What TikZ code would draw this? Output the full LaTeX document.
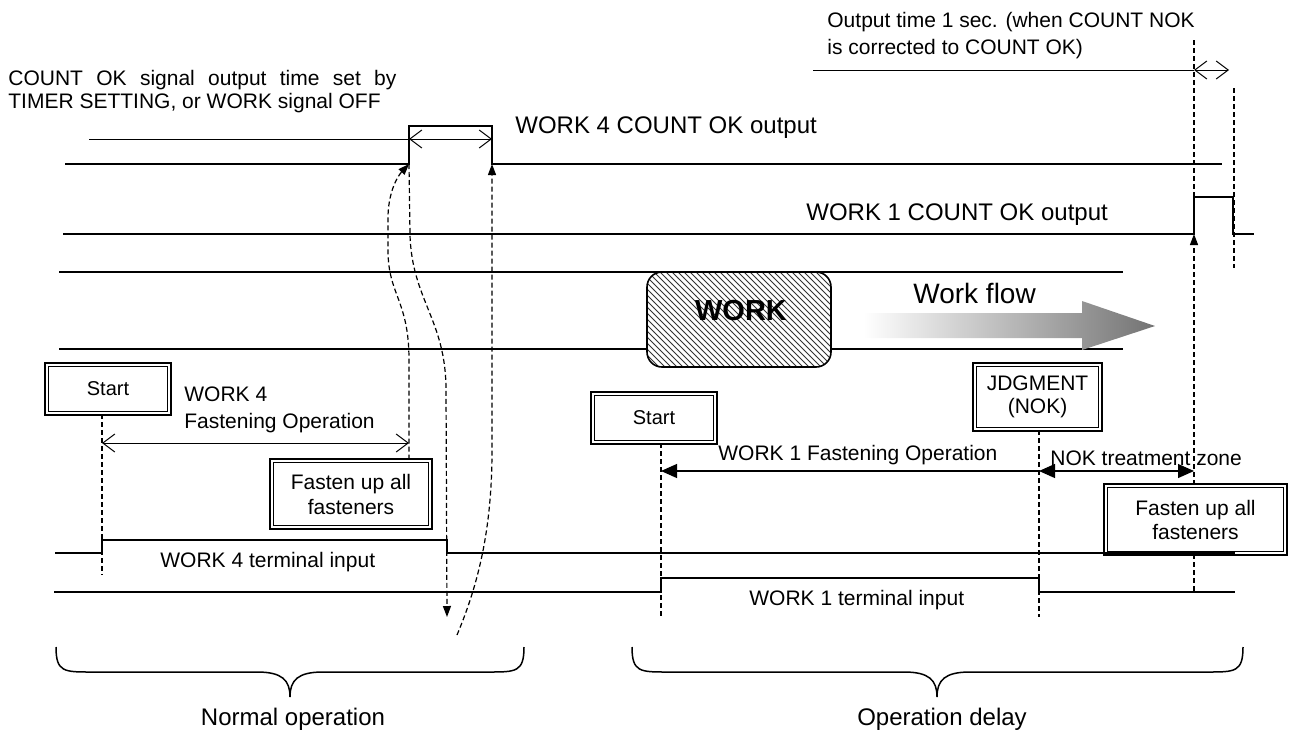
\documentclass[tikz,border=0pt]{standalone}
\usepackage{fontspec}
\setmainfont{Liberation Sans}
\usetikzlibrary{arrows.meta,patterns}

\begin{document}
\begin{tikzpicture}[x=0.5pt,y=-0.5pt,
	sig/.style={line width=1pt},
	thinln/.style={line width=0.5pt},
	guide/.style={line width=0.6pt,dash pattern=on 2.5pt off 1.5pt},
	cause/.style={guide,-{Triangle[length=5.5pt,width=4pt]}},
	span/.style={thinln,{Straight Barb[length=6pt,width=9pt]}-{Straight Barb[length=6pt,width=9pt]}},
	zone/.style={line width=0.6pt},
	brace/.style={line width=0.75pt},
	dblbox/.style={draw,fill=white,line width=0.9pt,double=white,double distance=1pt,inner sep=0pt,align=center},
	lbl/.style={inner sep=0pt,font=\fontsize{10.5}{12.5}\selectfont},
	big/.style={inner sep=0pt,font=\fontsize{12}{14}\selectfont}]
	\useasboundingbox (0,0) rectangle (1290,734);

	%lanes
	\draw[sig] (59,272) -- (1123,272);
	\draw[sig] (59,349) -- (1123,349);

	%WORK 4 COUNT OK output
	\coordinate (w4up) at (409,164);
	\coordinate (w4dn) at (492,164);
	\draw[sig] (65,164) -- (w4up) -- (409,126) -- (492,126) -- (w4dn) -- (1222,164);
	\draw[thinln] (89,139) -- (409,139);
	\draw[span] (409,139) -- (492,139);
	\node (out4) at (515,133) [big,anchor=base west] {WORK 4 COUNT OK output};

	%WORK 1 COUNT OK output
	\coordinate (w1up) at (1194,234);
	\coordinate (w1dn) at (1233,234);
	\draw[sig] (63,234) -- (w1up) -- (1194,197) -- (1233,197) -- (w1dn) -- (1254,234);
	\node (out1) at (806,220) [big,anchor=base west] {WORK 1 COUNT OK output};

	%notes on top
	\node (timer) at (8,70) [lbl,anchor=north west,text width=194pt,align=justify,font=\fontsize{10.5}{11.5}\selectfont] {COUNT OK signal output time set by\linebreak TIMER SETTING, or WORK signal OFF};
	\node (onesec) at (827,12) [lbl,anchor=north west,align=left,font=\fontsize{10.5}{13.5}\selectfont] {Output time 1 sec. (when COUNT NOK\\is corrected to COUNT OK)};
	\draw[thinln] (813,70) -- (1194,70);
	\draw[span] (1194,70) -- (1229,70);
	\draw[guide] (1234,88) -- (1234,268);

	%work and flow
	\node (work) at (739,319.5) [draw,line width=0.8pt,rounded corners=7.5pt,minimum width=92pt,minimum height=47.5pt,preaction={fill=white},pattern=north west lines,pattern color=black!80] {};
	\node (worktxt) at (741,311) [inner sep=0pt,font=\bfseries\fontsize{14.5}{16}\selectfont] {WORK};
	\shade[left color=white,right color=black!55] (863,313) -- (1082,313) -- (1082,301) -- (1155,326) -- (1082,350) -- (1082,338) -- (863,338) -- cycle;
	\node (flow) at (913,303) [anchor=base west,inner sep=0pt,font=\fontsize{14}{16}\selectfont] {Work flow};

	%boxes
	\node (start4) at (108,389) [dblbox,minimum width=61.4pt,minimum height=24.4pt,font=\fontsize{10}{12}\selectfont] {Start};
	\node (fasten4) at (351,494) [dblbox,minimum width=79.4pt,minimum height=33.4pt,font=\fontsize{10.5}{12.5}\selectfont] {Fasten up all\\fasteners};
	\node (start1) at (654,418) [dblbox,minimum width=61.4pt,minimum height=24.4pt,font=\fontsize{10}{12}\selectfont] {Start};
	\node (judge) at (1037.5,397) [dblbox,minimum width=62.9pt,minimum height=32.4pt,font=\fontsize{10.5}{11.5}\selectfont] {JDGMENT\\(NOK)};
	\node (fasten1) at (1195.5,519.5) [dblbox,minimum width=89.9pt,minimum height=33.9pt,font=\fontsize{10.5}{12}\selectfont] {Fasten up all\\fasteners};

	%terminal inputs
	\coordinate (w4on) at (102,540);
	\coordinate (w4off) at (447,540);
	\draw[sig] (55,553) -- (102,553) -- (w4on) -- (w4off) -- (447,553) -- (1235,553);
	\node (in4) at (160,567) [lbl,anchor=base west] {WORK 4 terminal input};
	\coordinate (w1on) at (661,578);
	\coordinate (w1off) at (1039,578);
	\draw[sig] (54,592) -- (661,592) -- (w1on) -- (w1off) -- (1039,592) -- (1235,592);
	\node (in1) at (749,605) [lbl,anchor=base west] {WORK 1 terminal input};

	%WORK 4 fastening
	\node (op4) at (184,386) [lbl,anchor=north west,align=left,font=\fontsize{10.5}{13.5}\selectfont] {WORK 4\\Fastening Operation};
	\draw[guide] (start4.south -| w4on) -- (102,575);
	\draw[span] (102,443) -- (409,443);

	%WORK 1 fastening and NOK zone
	\draw[guide] (start1.south -| w1on) -- (661,617);
	\draw[guide] (judge.south -| w1off) -- (1039,617);
	\coordinate (opL) at (661,471);
	\coordinate (opR) at (1039,471);
	\coordinate (nokR) at (1194,471);
	\draw[zone,-{Triangle[length=8pt,width=7pt]}] (opR) -- (opL);
	\draw[zone,{Triangle[length=8pt,width=7pt]}-{Triangle[length=8pt,width=7pt]}] (opR) -- (nokR);
	\node (op1) at (718,460) [lbl,anchor=base west] {WORK 1 Fastening Operation};
	\node (nok) at (1050,465) [lbl,anchor=base west] {NOK treatment zone};

	%1 sec line
	\draw[guide] (1194,40) -- (w1up);
	\draw[cause] (fasten1.north -| w1up) -- (w1up);
	\draw[guide] (fasten1.south -| w1up) -- (1194,592);

	%signal paths
	\coordinate (drop) at (447,617);
	\coordinate (rise) at (457,635);
	\draw[cause] (fasten4.north -| w4up) -- (409,360) .. controls (409,300) and (388,295) .. (388,250) -- (388,218) .. controls (388,195) and (396,178) .. (w4up);
	\draw[cause] (w4up) -- (410,235) .. controls (412,300) and (446,320) .. (446,390) -- (drop);
	\draw[cause] (rise) .. controls (478,585) and (492,530) .. (492,450) -- (w4dn);

	%braces
	\foreach \a/\m/\b in {56/290/524,632/937/1243}
		\draw[brace] (\a,647) .. controls (\a,672) and (\a+8,672) .. (\a+35,672) -- (\m-33,672) .. controls (\m-8,672) and (\m,680) .. (\m,697) .. controls (\m,680) and (\m+8,672) .. (\m+33,672) -- (\b-35,672) .. controls (\b-8,672) and (\b,672) .. (\b,647);
	\node (normal) at (293,725) [big,anchor=base] {Normal operation};
	\node (delay) at (942,725) [big,anchor=base] {Operation delay};
\end{tikzpicture}
\end{document}
